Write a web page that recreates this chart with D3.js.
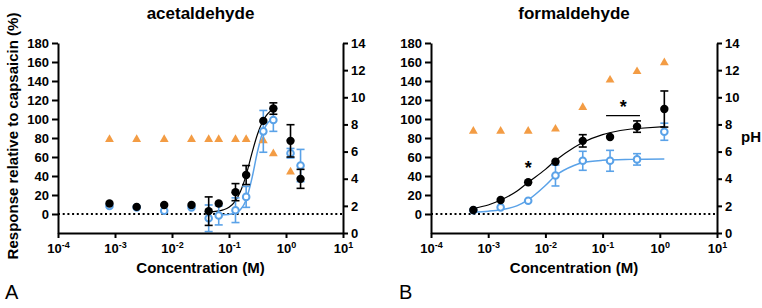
<!DOCTYPE html>
<html>
<head>
<meta charset="utf-8">
<script src="https://cdn.jsdelivr.net/npm/d3@7"></script>
<style>
  body { margin: 0; background: #fff; }
  svg text { font-family: "Liberation Sans", Arial, sans-serif; }
</style>
</head>
<body>
<div id="chart"></div>
<script>
// ---- acetaldehyde (panel A) ----
const acetConc     = [0.0008, 0.0024, 0.0073, 0.022, 0.044, 0.066, 0.13, 0.2, 0.4, 0.6, 1.2, 1.8];
const acetBlack    = [11, 7.5, 9.5, 9.5, 3, 11, 23, 41, 98, 111, 77, 37];
const acetBlackErr = [1.5, 1.5, 1.5, 1.5, 15, 4, 9, 10, 4, 6, 17, 10];
const acetBlue     = [8.5, 7, 3.5, 7, -4.5, -1.5, 4, 18, 87, 99, 64, 51];
const acetBlueErr  = [1.5, 1, 1.5, 1.5, 14, 10, 13, 11, 22, 12, 5, 17];
const acetPhConc   = [0.0008, 0.0024, 0.0073, 0.022, 0.044, 0.066, 0.13, 0.2, 0.4, 0.6, 1.2];
const acetPh       = [6.9, 6.9, 6.9, 6.9, 6.9, 6.9, 6.9, 6.9, 6.8, 5.85, 4.5];
// fitted curves
const acetBlackFitConc = [0.043, 0.063, 0.079, 0.1, 0.126, 0.158, 0.2, 0.25, 0.316, 0.38, 0.45, 0.56];
const acetBlackFit     = [2.3, 3, 4.3, 7, 12.8, 23.5, 41, 63, 84, 96, 103.5, 109.6];
const acetBlueFitConc  = [0.066, 0.1, 0.126, 0.158, 0.2, 0.25, 0.316, 0.38, 0.45, 0.56];
const acetBlueFit      = [-1, -0.4, 0.8, 4.5, 14.7, 36.4, 65.6, 84, 93.5, 99.8];

// ---- formaldehyde (panel B) ----
const formConc     = [0.00055, 0.00165, 0.005, 0.015, 0.045, 0.135, 0.4, 1.2];
const formBlack    = [4.2, 14.7, 33.4, 55, 77, 81, 92, 110.5];
const formBlackErr = [2, 1.5, 1.5, 1.5, 6.5, 4, 6, 19];
const formBlue     = [4, 7, 14, 40.5, 56, 56, 57.5, 86.6];
const formBlueErr  = [3.5, 1, 1, 11, 10, 11, 6, 9];
const formPh       = [7.5, 7.5, 7.5, 7.66, 9.26, 11.27, 11.9, 12.55];
const formBlackFitConc = [0.00055, 0.001, 0.00166, 0.00316, 0.0049, 0.01, 0.0148, 0.0316, 0.0442, 0.1, 0.132, 0.316, 0.4, 1.2];
const formBlackFit     = [6, 9.5, 14.7, 24, 33, 47, 56, 70, 75, 83.5, 85.5, 89.5, 90, 92];
const formBlueFitConc  = [0.00055, 0.001, 0.00166, 0.00316, 0.0049, 0.01, 0.0148, 0.0316, 0.0442, 0.1, 0.316, 1.2];
const formBlueFit      = [2, 3, 4.5, 8.5, 14.5, 30, 40, 51, 54, 56.5, 57.5, 58];
// significance marks: stars (conc, response) and the bracket under the second star
const formStars   = [{c: 0.005, v: 53}, {c: 0.23, v: 117}];
const formBracket = {from: 0.115, to: 0.45, v: 103.5};

// ---- ticks ----
const xTicks = [1e-4, 1e-3, 1e-2, 1e-1, 1e0, 1e1];
const yTicks = [0, 20, 40, 60, 80, 100, 120, 140, 160, 180];
const phTicks = [0, 2, 4, 6, 8, 10, 12, 14];

const width = 762, height = 308;
const black = "#000", blue = "#5aa2e8", orange = "#f39c44";

const svg = d3.select("#chart").append("svg")
    .attr("width", width)
    .attr("height", height);

function drawPanel(p) {
  const x = d3.scaleLog().domain([1e-4, 1e1]).range([p.left, p.right]);
  const y = d3.scaleLinear().domain([-20, 180]).range([233, 43]);
  const yPh = d3.scaleLinear().domain([0, 14]).range([233, 43]);

  const g = svg.append("g");

  // zero line
  g.append("line")
    .attr("x1", p.left).attr("x2", p.right)
    .attr("y1", y(0)).attr("y2", y(0))
    .attr("stroke", black).attr("stroke-width", 2)
    .attr("stroke-dasharray", "2,2.7");

  // fitted curves
  const line = d3.line()
    .curve(d3.curveMonotoneX)
    .x(d => x(d[0]))
    .y(d => y(d[1]));
  g.append("path")
    .attr("d", line(d3.zip(p.blueFitConc, p.blueFit)))
    .attr("fill", "none").attr("stroke", blue).attr("stroke-width", 1.5);
  g.append("path")
    .attr("d", line(d3.zip(p.blackFitConc, p.blackFit)))
    .attr("fill", "none").attr("stroke", black).attr("stroke-width", 1.2);

  // pH triangles
  g.selectAll(".ph")
    .data(d3.zip(p.phConc, p.ph))
    .enter().append("path")
    .attr("d", d3.symbol(d3.symbolTriangle, 34))
    .attr("transform", d => `translate(${x(d[0])},${yPh(d[1])})`)
    .attr("fill", orange);

  // error bars + markers
  function series(vals, errs, color, filled) {
    const data = p.conc.map((c, i) => ({c: c, v: vals[i], e: errs[i]}));
    const eb = g.append("g").attr("stroke", color).attr("stroke-width", 1.6).attr("fill", "none");
    data.filter(d => y(d.v - d.e) - y(d.v + d.e) > 8).forEach(d => {
      const cx = x(d.c);
      const lo = Math.min(y(d.v - d.e), 233), hi = y(d.v + d.e);
      eb.append("line").attr("x1", cx).attr("x2", cx).attr("y1", lo).attr("y2", hi);
      eb.append("line").attr("x1", cx - 4).attr("x2", cx + 4).attr("y1", hi).attr("y2", hi);
      if (y(d.v - d.e) < 233)
        eb.append("line").attr("x1", cx - 4).attr("x2", cx + 4).attr("y1", lo).attr("y2", lo);
    });
    g.append("g").selectAll("circle")
      .data(data)
      .enter().append("circle")
      .attr("cx", d => x(d.c))
      .attr("cy", d => y(d.v))
      .attr("r", filled ? 4.2 : 3.3)
      .attr("fill", filled ? color : "#fff")
      .attr("stroke", color)
      .attr("stroke-width", filled ? 0 : 2);
  }
  series(p.blue, p.blueErr, blue, false);
  series(p.black, p.blackErr, black, true);

  // axes
  const styleAxis = a => {
    a.select(".domain").attr("stroke-width", 2);
    a.selectAll(".tick line").attr("stroke-width", 2);
    a.attr("font-family", null).attr("font-size", 13).attr("font-weight", "bold");
  };

  const ax = g.append("g")
    .attr("transform", `translate(0,233)`)
    .call(d3.axisBottom(x).tickValues(xTicks).tickSize(5).tickPadding(6).tickSizeOuter(0));
  styleAxis(ax);
  ax.selectAll(".tick text").each(function(d) {
    const t = d3.select(this).text("");
    t.append("tspan").text("10");
    t.append("tspan").attr("dy", -5).attr("font-size", 9).text(Math.round(Math.log10(d)));
  });

  const ay = g.append("g")
    .attr("transform", `translate(${p.left},0)`)
    .call(d3.axisLeft(y).tickValues(yTicks).tickSize(6).tickPadding(3).tickSizeOuter(0));
  styleAxis(ay);

  const ar = g.append("g")
    .attr("transform", `translate(${p.right},0)`)
    .call(d3.axisRight(yPh).tickValues(phTicks).tickSize(5).tickPadding(3).tickSizeOuter(0));
  styleAxis(ar);

  // titles
  const mid = (p.left + p.right) / 2;
  g.append("text")
    .attr("x", mid).attr("y", 19)
    .attr("text-anchor", "middle")
    .attr("font-size", 17).attr("font-weight", "bold")
    .text(p.title);
  g.append("text")
    .attr("x", mid).attr("y", 273)
    .attr("text-anchor", "middle")
    .attr("font-size", 15).attr("font-weight", "bold")
    .text("Concentration (M)");
  g.append("text")
    .attr("x", p.letterX).attr("y", 299)
    .attr("font-size", 20)
    .text(p.letter);

  if (p.stars) {
    p.stars.forEach(s => {
      g.append("text")
        .attr("x", x(s.c)).attr("y", y(s.v) + 10)
        .attr("text-anchor", "middle")
        .attr("font-size", 18).attr("font-weight", "bold")
        .text("*");
    });
    g.append("line")
      .attr("x1", x(p.bracket.from)).attr("x2", x(p.bracket.to))
      .attr("y1", y(p.bracket.v)).attr("y2", y(p.bracket.v))
      .attr("stroke", black).attr("stroke-width", 1.2);
  }
}

drawPanel({
  left: 58, right: 343, title: "acetaldehyde", letter: "A", letterX: 5,
  conc: acetConc, black: acetBlack, blackErr: acetBlackErr, blue: acetBlue, blueErr: acetBlueErr,
  phConc: acetPhConc, ph: acetPh,
  blackFitConc: acetBlackFitConc, blackFit: acetBlackFit,
  blueFitConc: acetBlueFitConc, blueFit: acetBlueFit
});

drawPanel({
  left: 431, right: 717, title: "formaldehyde", letter: "B", letterX: 399,
  conc: formConc, black: formBlack, blackErr: formBlackErr, blue: formBlue, blueErr: formBlueErr,
  phConc: formConc, ph: formPh,
  blackFitConc: formBlackFitConc, blackFit: formBlackFit,
  blueFitConc: formBlueFitConc, blueFit: formBlueFit,
  stars: formStars, bracket: formBracket
});

// y-axis titles
svg.append("text")
  .attr("transform", "translate(18,136) rotate(-90)")
  .attr("text-anchor", "middle")
  .attr("font-size", 15).attr("font-weight", "bold")
  .text("Response relative to capsaicin (%)");

svg.append("text")
  .attr("x", 741).attr("y", 142)
  .attr("font-size", 15).attr("font-weight", "bold")
  .text("pH");
</script>
</body>
</html>
